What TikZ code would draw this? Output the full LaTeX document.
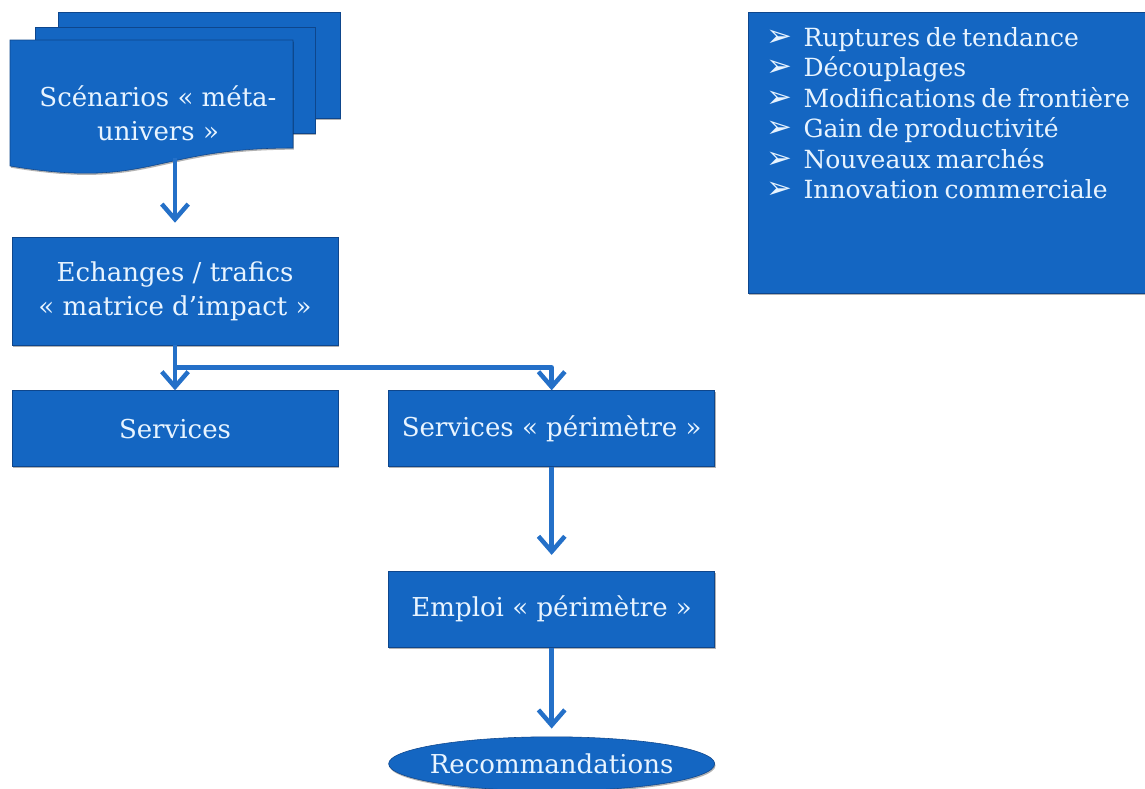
\documentclass[tikz,border=0pt]{standalone}
\usepackage{fontspec}
\setmainfont{DejaVu Serif}
\newfontfamily\flechefont{DejaVu Sans}
\usepackage{tikz}
\usetikzlibrary{shapes.geometric, arrows.meta, positioning, shadows}
\definecolor{schemablue}{RGB}{20,102,194}
\definecolor{schemaedge}{RGB}{14,70,140}
\definecolor{schematext}{RGB}{232,244,255}
\definecolor{schemaarrow}{RGB}{36,112,200}
\newcommand{\puce}{\makebox[0.93cm][l]{\flechefont\fontsize{22}{21.6}\selectfont ➢}}
\newcommand{\listefont}{\fontsize{17.8}{21.6}\selectfont\spaceskip=0.22em plus 0.1em\relax}
\tikzset{
  basetext/.style={text=schematext, align=center, font=\fontsize{18.5}{24}\selectfont},
  basebox/.style={
    basetext, rectangle, draw=schemaedge, fill=schemablue, inner sep=2pt,
    drop shadow={shadow xshift=0.6pt, shadow yshift=-1.2pt, opacity=0.3, fill=black}
  },
  flowbox/.style={basebox, minimum width=8.15cm, minimum height=1.9cm},
  docpage/.style={draw=schemaedge, fill=schemablue,
    drop shadow={shadow xshift=0.6pt, shadow yshift=-1.2pt, opacity=0.3, fill=black}},
  listtext/.style={basetext, align=left, inner sep=0pt, font=\listefont},
  recobox/.style={basebox, ellipse, minimum width=8.15cm, minimum height=1.35cm, inner sep=0pt},
  flowarrow/.style={-{Straight Barb[length=0.38cm, width=0.66cm]}, line width=3.2pt,
    color=schemaarrow, line join=round}
}

\begin{document}
\begin{tikzpicture}[x=0.025cm, y=-0.025cm]
  \useasboundingbox (0,0) rectangle (1145,789);

  % stacked scenario pages
  \draw[docpage] (58,12) rectangle (340,118);
  \draw[docpage] (35,27) rectangle (315,133);
  \draw[docpage] (10,40) -- (293,40) -- (293,148)
        .. controls (151.5,148) and (151.5,189.5) .. (10,166) -- cycle;
  \node[basetext] (scen) at (158,113) {Scénarios «~méta-\\univers~»};
  \coordinate (scenfoot) at (175,158);

  % main chain
  \node[flowbox, minimum height=2.7cm] (ech) at (175,291)
        {Echanges / trafics\\«~matrice d’impact~»};
  \node[flowbox, below=1.125cm of ech] (serv) {Services};
  \node[flowbox, right=1.25cm of serv] (servp) {Services «~périmètre~»};
  \node[flowbox, below=2.6cm of servp] (emploi) {Emploi «~périmètre~»};
  \node[recobox, below=2.225cm of emploi] (reco) {\makebox[5cm]{Recommandations}};

  % factors box
  \node[basebox, minimum width=10.05cm, minimum height=7.025cm, anchor=north west]
        (tendances) at (748,12) {};
  \node[listtext, below right=0.38cm and 0.45cm of tendances.north west] (liste)
        {\puce Ruptures de tendance\\
         \puce Découplages\\
         \puce Modifications de frontière\\
         \puce Gain de productivité\\
         \puce Nouveaux marchés\\
         \puce Innovation commerciale};

  % connectors
  \coordinate[below=0.55cm of ech.south] (split);
  \draw[flowarrow, shorten >=0.35cm] (scenfoot) -- (ech.north);
  \draw[flowarrow] (ech.south) -- (serv.north);
  \draw[flowarrow] (split) -| (servp.north);
  \draw[flowarrow, shorten >=0.4cm] (servp.south) -- (emploi.north);
  \draw[flowarrow, shorten >=0.2cm] (emploi.south) -- (reco.north);
\end{tikzpicture}
\end{document}
